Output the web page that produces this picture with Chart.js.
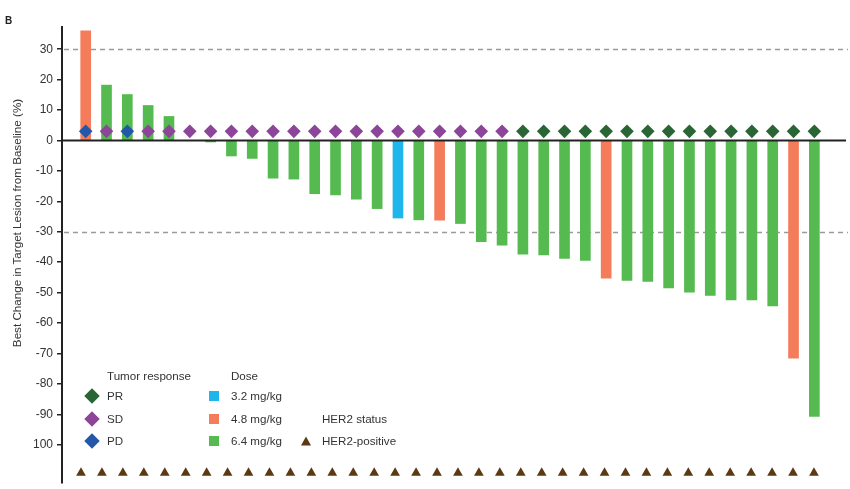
<!DOCTYPE html>
<html>
<head>
<meta charset="utf-8">
<script src="https://cdn.jsdelivr.net/npm/chart.js@4.4.1/dist/chart.umd.min.js"></script>
<style>
  html, body { margin: 0; padding: 0; background: #fff; }
  #wrap { position: relative; width: 850px; height: 489px; font-family: "Liberation Sans", Arial, sans-serif; color: #333; }
  #chart { position: absolute; left: 0; top: 0; }
  .txt { position: absolute; white-space: nowrap; font-size: 11.6px; line-height: 1; transform: translateY(-50%); }
  .dia { position: absolute; width: 11px; height: 11px; transform: translate(-50%, -50%) rotate(45deg); }
  .sq { position: absolute; width: 10px; height: 10px; transform: translate(-50%, -50%); }
  .tri { position: absolute; width: 0; height: 0; border-left: 5px solid transparent; border-right: 5px solid transparent; border-bottom: 9px solid #5b3912; transform: translate(-50%, -50%); }
  #ytitle { position: absolute; left: 16px; top: 223px; transform: translate(-50%, -50%) rotate(-90deg); font-size: 11.65px; white-space: nowrap; color: #333; }
  #panel { position: absolute; left: 5px; top: 15px; font-weight: bold; font-size: 10px; color: #222; }
</style>
</head>
<body>
<div id="wrap">
  <canvas id="chart" width="850" height="489"></canvas>
  <div id="panel">B</div>
  <div id="ytitle">Best Change in Target Lesion from Baseline (%)</div>
  <div id="legend"></div>
</div>
<script>
// patient-level best change (%) in target lesion, sorted as in the waterfall
const patients = Array.from({ length: 36 }, (_, i) => i + 1);
const bestChange = [36, 18.2, 15.1, 11.5, 7.9, 0, -0.5, -5.1, -5.9, -12.4, -12.7, -17.5, -17.9, -19.3, -22.4, -25.5, -26.1, -26.2,
  -27.3, -33.3, -34.4, -37.4, -37.6, -38.8, -39.4, -45.3, -46.0, -46.3, -48.5, -49.9, -50.9, -52.4, -52.4, -54.4, -71.6, -90.7];
const dose = ['4.8', '6.4', '6.4', '6.4', '6.4', '6.4', '6.4', '6.4', '6.4', '6.4', '6.4', '6.4', '6.4', '6.4', '6.4', '3.2', '6.4', '4.8',
  '6.4', '6.4', '6.4', '6.4', '6.4', '6.4', '6.4', '4.8', '6.4', '6.4', '6.4', '6.4', '6.4', '6.4', '6.4', '6.4', '4.8', '6.4'];
const response = ['PD', 'SD', 'PD', 'SD', 'SD', 'SD', 'SD', 'SD', 'SD', 'SD', 'SD', 'SD', 'SD', 'SD', 'SD', 'SD', 'SD', 'SD',
  'SD', 'SD', 'SD', 'PR', 'PR', 'PR', 'PR', 'PR', 'PR', 'PR', 'PR', 'PR', 'PR', 'PR', 'PR', 'PR', 'PR', 'PR'];
const her2Positive = Array.from({ length: 36 }, () => true);
const yTicks = [30, 20, 10, 0, -10, -20, -30, -40, -50, -60, -70, -80, -90, -100];
const yTickLabels = ['30', '20', '10', '0', '-10', '-20', '-30', '-40', '-50', '-60', '-70', '-80', '-90', '100'];
const refLines = [30, -30];
const responseRow = 3;
const her2Row = -109.3;

const doseColor = { '3.2': '#1fb6ec', '4.8': '#f47c5b', '6.4': '#55ba4f' };
const respColor = { PR: '#2a6536', SD: '#8d459a', PD: '#2457a7' };

const refLinePlugin = {
  id: 'refLines',
  beforeDatasetsDraw(chart) {
    const { ctx, chartArea, scales } = chart;
    ctx.save();
    ctx.strokeStyle = '#9a9a9a';
    ctx.lineWidth = 1.5;
    ctx.setLineDash([5, 4]);
    refLines.forEach((v) => {
      const y = Math.round(scales.y.getPixelForValue(v)) + 0.5;
      ctx.beginPath();
      ctx.moveTo(chartArea.left + 2, y);
      ctx.lineTo(chartArea.right + 2, y);
      ctx.stroke();
    });
    ctx.restore();
  },
  afterDatasetsDraw(chart) {
    const { ctx, chartArea, scales } = chart;
    const y = scales.y.getPixelForValue(0);
    ctx.save();
    ctx.strokeStyle = '#222';
    ctx.lineWidth = 2;
    ctx.beginPath();
    ctx.moveTo(chartArea.left, y);
    ctx.lineTo(chartArea.right, y);
    ctx.stroke();
    ctx.restore();
  }
};

new Chart(document.getElementById('chart'), {
  type: 'bar',
  data: {
    datasets: [
      {
        type: 'scatter',
        data: patients.map((p) => ({ x: p, y: responseRow })),
        pointStyle: 'rectRot',
        pointRadius: 6.8,
        pointBackgroundColor: response.map((r) => respColor[r]),
        pointBorderWidth: 0,
        order: 0
      },
      {
        type: 'scatter',
        xAxisID: 'x2',
        data: patients.filter((p, i) => her2Positive[i]).map((p) => ({ x: p, y: her2Row })),
        pointStyle: 'triangle',
        pointRadius: 5.6,
        pointBackgroundColor: '#5b3912',
        pointBorderWidth: 0,
        order: 0
      },
      {
        data: patients.map((p, i) => ({ x: p, y: bestChange[i] })),
        backgroundColor: dose.map((d) => doseColor[d]),
        grouped: false,
        barPercentage: 1,
        categoryPercentage: 1,
        maxBarThickness: 10,
        order: 1
      }
    ]
  },
  options: {
    responsive: false,
    animation: false,
    layout: { autoPadding: false, padding: { left: 0, top: 27, right: 4, bottom: 6 } },
    plugins: { legend: { display: false }, tooltip: { enabled: false } },
    scales: {
      x: { type: 'linear', offset: false, min: -0.138, max: 37.52, display: false },
      x2: { type: 'linear', offset: false, min: 0.093, max: 37.53, display: false },
      y: {
        min: -112.6,
        max: 37.3,
        afterFit: (scale) => { scale.width = 62; scale.paddingTop = 0; scale.paddingBottom = 0; },
        afterBuildTicks: (scale) => { scale.ticks = yTicks.map((v) => ({ value: v })); },
        border: { color: '#222', width: 2 },
        grid: { drawOnChartArea: false, color: '#222', lineWidth: 1.5, tickLength: 5 },
        ticks: {
          padding: 4,
          color: '#333',
          font: { family: '"Liberation Sans", Arial, sans-serif', size: 12 },
          callback: (v) => yTickLabels[yTicks.indexOf(v)]
        }
      }
    }
  },
  plugins: [refLinePlugin]
});

// legend (three groups, drawn as page text)
const legendItems = [
  { kind: 'head', text: 'Tumor response', x: 107, y: 376 },
  { kind: 'dia', color: respColor.PR, x: 92, y: 396 },
  { kind: 'label', text: 'PR', x: 107, y: 396 },
  { kind: 'dia', color: respColor.SD, x: 92, y: 419 },
  { kind: 'label', text: 'SD', x: 107, y: 419 },
  { kind: 'dia', color: respColor.PD, x: 92, y: 441 },
  { kind: 'label', text: 'PD', x: 107, y: 441 },
  { kind: 'head', text: 'Dose', x: 231, y: 376 },
  { kind: 'sq', color: doseColor['3.2'], x: 214, y: 396 },
  { kind: 'label', text: '3.2 mg/kg', x: 231, y: 396 },
  { kind: 'sq', color: doseColor['4.8'], x: 214, y: 419 },
  { kind: 'label', text: '4.8 mg/kg', x: 231, y: 419 },
  { kind: 'sq', color: doseColor['6.4'], x: 214, y: 441 },
  { kind: 'label', text: '6.4 mg/kg', x: 231, y: 441 },
  { kind: 'head', text: 'HER2 status', x: 322, y: 419 },
  { kind: 'tri', x: 306, y: 441 },
  { kind: 'label', text: 'HER2-positive', x: 322, y: 441 }
];
document.getElementById('legend').innerHTML = legendItems.map((it) => {
  if (it.kind === 'dia') return `<div class="dia" style="left:${it.x}px;top:${it.y}px;background:${it.color}"></div>`;
  if (it.kind === 'sq') return `<div class="sq" style="left:${it.x}px;top:${it.y}px;background:${it.color}"></div>`;
  if (it.kind === 'tri') return `<div class="tri" style="left:${it.x}px;top:${it.y}px"></div>`;
  return `<div class="txt" style="left:${it.x}px;top:${it.y}px">${it.text}</div>`;
}).join('');
</script>
</body>
</html>
